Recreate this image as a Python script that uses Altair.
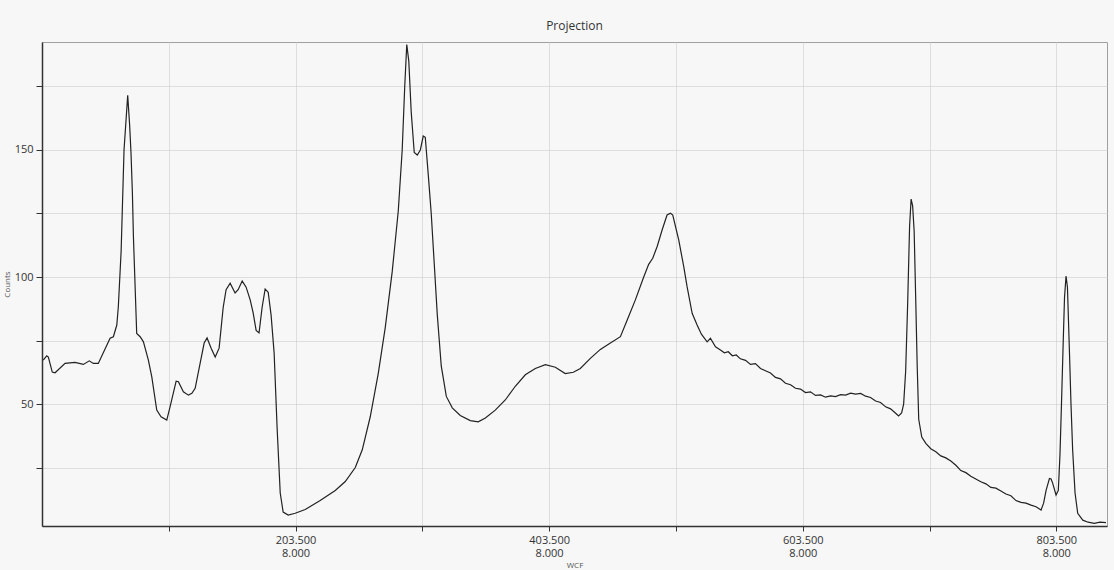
import altair as alt
import pandas as pd

x_vals = [4.5, 7.2, 8.5, 11.6, 13.8, 21.7, 29.5, 36.1, 40.8, 44.0, 47.9, 57.2, 59.8, 62.5, 63.7, 65.9,
          68.2, 71.1, 72.6, 73.7, 74.8, 75.6, 78.2, 80.9, 83.5, 87.4, 90.1, 94.0, 97.4, 101.9, 104.5,
          109.3, 111.1, 115.0, 119.0, 121.7, 124.3, 128.2, 131.4, 133.7, 136.9, 140.1, 143.2, 146.4,
          148.7, 151.9, 155.8, 158.2, 161.4, 164.5, 167.7, 170.0, 172.4, 174.7, 177.1, 179.5, 181.9,
          184.2, 186.6, 189.0, 191.4, 193.7, 197.7, 203.2, 211.1, 222.9, 234.8, 242.7, 250.6, 256.1,
          262.4, 268.7, 274.2, 279.7, 284.5, 287.6, 289.6, 291.2, 292.8, 294.7, 297.1, 299.5, 301.9,
          304.2, 305.8, 308.2, 310.5, 312.9, 315.3, 318.4, 322.4, 327.1, 333.4, 341.3, 347.6, 353.2,
          361.0, 368.9, 376.8, 384.7, 392.6, 400.5, 408.4, 416.2, 422.6, 428.1, 436.0, 443.9, 451.8,
          459.7, 465.0, 471.5, 478.1, 482.0, 485.2, 488.7, 492.6, 496.5, 499.2, 501.0, 505.7, 509.7,
          512.3, 516.3, 520.2, 523.6, 528.1, 530.7, 534.7, 538.6, 541.7, 544.8, 548.0, 551.1, 554.3,
          558.4, 562.3, 566.2, 570.2, 574.1, 578.1, 582.0, 586.0, 589.9, 593.9, 597.8, 601.7, 605.7,
          609.6, 613.6, 617.6, 621.5, 625.5, 629.4, 633.4, 637.3, 641.3, 645.2, 649.2, 653.1, 657.0,
          661.0, 664.9, 668.9, 672.8, 676.8, 679.1, 681.5, 683.1, 684.7, 686.3, 687.8, 689.0,
          690.2, 691.4, 692.6, 693.8, 695.0, 697.4, 700.6, 704.5, 708.5, 712.4, 716.4, 720.3, 724.3,
          728.2, 732.2, 736.1, 740.0, 744.0, 748.0, 751.9, 755.9, 759.8, 763.8, 767.7, 771.7, 775.7,
          779.6, 783.6, 787.5, 791.5, 793.5, 795.5, 798.1, 799.4, 800.7, 803.3, 805.1, 806.4, 807.6,
          809.0, 810.0, 811.2, 812.3, 813.8, 815.1, 816.4, 818.3, 820.4, 824.4, 828.6, 833.5, 838.0,
          842.7]

counts = [67.3, 69.0, 68.5, 62.6, 62.3, 66.0, 66.4, 65.6, 67.0, 66.0, 66.0, 75.9, 76.5, 81.1, 88.3, 110.0,
          150.0, 171.5, 160.0, 148.8, 133.0, 116.0, 77.8, 76.5, 74.5, 67.3, 60.7, 47.6, 45.0, 43.7, 48.9,
          59.0, 58.8, 54.8, 53.5, 54.2, 56.2, 66.0, 74.0, 76.0, 72.0, 68.5, 72.0, 88.0,
          95.0, 97.6, 93.7, 95.0, 98.4, 96.0, 91.0, 86.0, 79.0, 78.0, 88.0, 95.3, 94.0,
          85.0, 70.0, 40.0, 15.0, 7.5, 6.3, 7.0, 8.5, 12.0, 16.0, 19.5, 25.0, 32.0,
          45.0, 62.0, 80.0, 102.0, 126.0, 150.0, 175.0, 191.5, 185.0, 165.0, 149.0, 148.0, 150.0,
          155.5, 155.0, 140.0, 125.0, 105.0, 85.0, 65.0, 53.0, 48.5, 45.5, 43.5, 43.0, 44.5,
          47.6, 51.6, 57.0, 61.5, 64.0, 65.5, 64.5, 62.0, 62.5, 64.0, 68.0, 71.5, 74.0,
          76.5, 83.0, 91.0, 100.0, 105.0, 107.4, 112.0, 118.5, 124.4, 125.1, 124.4, 114.6, 104.0,
          96.2, 85.7, 81.1, 77.5, 74.5, 75.9, 72.5, 71.3, 70.2, 70.6, 69.0, 69.3, 67.8,
          67.2, 65.6, 65.9, 64.0, 63.1, 62.2, 60.5, 59.9, 58.2, 57.6, 56.2, 55.9, 54.5,
          54.8, 53.4, 53.6, 52.7, 53.2, 52.9, 53.7, 53.5, 54.3, 53.9, 54.2, 53.1, 52.6,
          51.2, 50.6, 48.9, 48.1, 46.4, 45.3, 46.5, 50.0, 63.0, 90.0, 120.0, 130.7,
          128.0, 118.0, 92.0, 65.0, 44.0, 37.0, 34.5, 32.4, 31.2, 29.6, 28.8, 27.6, 25.9,
          23.8, 23.0, 21.6, 20.5, 19.4, 18.6, 17.2, 16.9, 15.8, 14.6, 13.9, 12.0, 11.3,
          11.0, 10.2, 9.6, 8.3, 11.0, 16.1, 20.7, 20.5, 18.8, 14.2, 16.0, 30.0, 50.0,
          75.0, 92.0, 100.4, 96.0, 72.0, 50.0, 32.0, 15.0, 7.0, 4.3, 3.5, 3.0, 3.5,
          3.3]

x_ticks = [103.5, 203.5, 303.5, 403.5, 503.5, 603.5, 703.5, 803.5]
y_ticks = [25, 50, 75, 100, 125, 150, 175]
bin_label = "8.000"

df = pd.DataFrame({"wcf": x_vals, "counts": counts})

FONT = "Open Sans"

chart = alt.Chart(df).mark_line(color="#222222", strokeWidth=1.2, clip=True).encode(
    x=alt.X("wcf:Q",
            scale=alt.Scale(domain=[3.5, 843.5], nice=False, zero=False),
            axis=alt.Axis(values=x_ticks, title="WCF", titleFontSize=8, titleColor="#555555",
                          titleFontWeight="normal", titleFont=FONT, titleY=35, titleBaseline="top",
                          labelExpr=f"datum.value % 200 == 3.5 ? [format(datum.value, '.3f'), '{bin_label}'] : ''",
                          labelFont=FONT, labelFontSize=11, labelColor="#333333", labelLineHeight=13,
                          labelPadding=3, tickSize=5, tickColor="#333333", domainColor="#333333",
                          domainWidth=1.5, grid=True, gridColor="#c4c4c4", gridDash=[1, 1],
                          labelFlush=False, labelOverlap=False)),
    y=alt.Y("counts:Q",
            scale=alt.Scale(domain=[2, 192.5], nice=False, zero=False),
            axis=alt.Axis(values=y_ticks, title="Counts", titleFontSize=8, titleColor="#555555",
                          titleFontWeight="normal", titleFont=FONT, titleX=-31, titleBaseline="bottom",
                          labelExpr="datum.value % 50 == 0 ? datum.label : ''",
                          labelFont=FONT, labelFontSize=11, labelColor="#333333", labelPadding=3,
                          tickSize=6, tickColor="#333333", domainColor="#333333", domainWidth=1.5,
                          grid=True, gridColor="#c4c4c4", gridDash=[1, 1], labelOverlap=False)),
).properties(
    width=1065,
    height=484,
    title=alt.TitleParams("Projection", font=FONT, fontSize=12, fontWeight="normal",
                          color="#333333", anchor="middle", offset=9),
    autosize=alt.AutoSizeParams(type="none"),
    padding={"left": 42, "top": 42, "right": 7, "bottom": 44},
    background="#f7f7f7",
).configure_view(
    fill="#f7f7f7", stroke="#a0a0a0", strokeWidth=1
)

chart.save("out.html", embed_options={"renderer": "svg", "actions": False})
